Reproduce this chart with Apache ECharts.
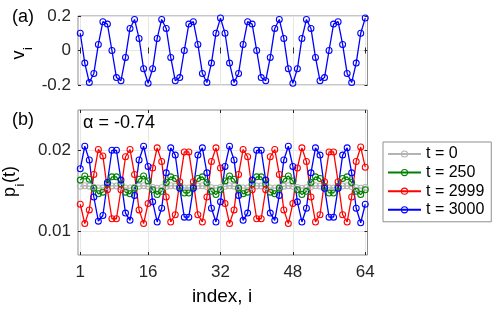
<!DOCTYPE html>
<html>
<head>
<meta charset="utf-8">
<script src="https://cdn.jsdelivr.net/npm/echarts@6/dist/echarts.min.js"></script>
<style>
html,body{margin:0;padding:0;background:#fff;}
#chart{width:498px;height:310px;}
</style>
</head>
<body>
<div id="chart"></div>
<script>
// ---- data ----
var indices = [1,2,3,4,5,6,7,8,9,10,11,12,13,14,15,16,17,18,19,20,21,22,23,24,25,26,27,28,29,30,31,32,
               33,34,35,36,37,38,39,40,41,42,43,44,45,46,47,48,49,50,51,52,53,54,55,56,57,58,59,60,61,62,63,64];
var xTicks = [1,16,32,48,64];
var vTicks = [-0.2,0,0.2];
var pTicks = [0.01,0.02];

var vValues = [0.100,-0.073,-0.186,-0.133,0.035,0.167,0.153,0.000,-0.157,-0.175,-0.040,0.128,0.180,0.070,-0.106,-0.190,
               -0.106,0.070,0.180,0.128,-0.040,-0.175,-0.157,0.000,0.153,0.167,0.035,-0.133,-0.186,-0.073,0.100,0.188,
               0.100,-0.073,-0.186,-0.133,0.035,0.167,0.153,0.000,-0.157,-0.175,-0.040,0.128,0.180,0.070,-0.106,-0.190,
               -0.106,0.070,0.180,0.128,-0.040,-0.175,-0.157,0.000,0.153,0.167,0.035,-0.133,-0.186,-0.073,0.100,0.188];

var pT0 = [0.01552,0.01560,0.01555,0.01541,0.01531,0.01533,0.01546,0.01558,0.01558,0.01546,0.01533,0.01531,0.01541,0.01555,0.01560,0.01552,
           0.01538,0.01530,0.01535,0.01549,0.01559,0.01557,0.01544,0.01532,0.01532,0.01544,0.01557,0.01559,0.01549,0.01535,0.01530,0.01538,
           0.01552,0.01560,0.01555,0.01541,0.01531,0.01533,0.01546,0.01558,0.01558,0.01546,0.01533,0.01531,0.01541,0.01555,0.01560,0.01552,
           0.01538,0.01530,0.01535,0.01549,0.01559,0.01557,0.01544,0.01532,0.01532,0.01544,0.01557,0.01559,0.01549,0.01535,0.01530,0.01538];

var pT250 = [0.0163,0.0168,0.0164,0.0153,0.0146,0.0148,0.0158,0.0167,0.0167,0.0158,0.0148,0.0146,0.0153,0.0164,0.0168,0.0162,
             0.0151,0.0145,0.0149,0.0160,0.0167,0.0165,0.0155,0.0147,0.0147,0.0155,0.0165,0.0167,0.0160,0.0149,0.0145,0.0151,
             0.0162,0.0168,0.0164,0.0153,0.0146,0.0148,0.0158,0.0167,0.0167,0.0158,0.0148,0.0146,0.0153,0.0164,0.0168,0.0162,
             0.0151,0.0145,0.0149,0.0160,0.0167,0.0165,0.0155,0.0147,0.0147,0.0155,0.0165,0.0167,0.0160,0.0149,0.0145,0.0151];

var pT2999 = [0.0133,0.0109,0.0126,0.0170,0.0201,0.0193,0.0151,0.0115,0.0115,0.0151,0.0192,0.0201,0.0170,0.0126,0.0109,0.0134,
              0.0178,0.0203,0.0186,0.0142,0.0111,0.0120,0.0161,0.0198,0.0198,0.0161,0.0120,0.0111,0.0142,0.0186,0.0203,0.0178,
              0.0134,0.0109,0.0126,0.0170,0.0201,0.0192,0.0151,0.0115,0.0115,0.0151,0.0192,0.0201,0.0170,0.0126,0.0109,0.0134,
              0.0178,0.0203,0.0186,0.0142,0.0111,0.0120,0.0161,0.0198,0.0198,0.0161,0.0120,0.0111,0.0142,0.0186,0.0204,0.0179];

var pT3000 = [0.0177,0.0205,0.0188,0.0142,0.0112,0.0119,0.0160,0.0200,0.0200,0.0163,0.0122,0.0113,0.0144,0.0188,0.0205,0.0180,
              0.0136,0.0111,0.0128,0.0172,0.0203,0.0194,0.0153,0.0117,0.0117,0.0153,0.0194,0.0203,0.0172,0.0128,0.0111,0.0136,
              0.0180,0.0205,0.0188,0.0144,0.0113,0.0122,0.0163,0.0200,0.0200,0.0163,0.0122,0.0113,0.0144,0.0188,0.0205,0.0180,
              0.0136,0.0111,0.0128,0.0172,0.0203,0.0194,0.0153,0.0117,0.0117,0.0153,0.0194,0.0203,0.0172,0.0128,0.0110,0.0133];

var seriesNames = ['t = 0','t = 250','t = 2999','t = 3000'];
var seriesColors = ['#b3b3b3','#008000','#ff0000','#0000ff'];
// -------------------------------------

var FONT = 'Liberation Sans, Arial, Helvetica, sans-serif';
var AX = '#262626';
var BOX = '#8f8f8f';
var GRIDC = '#e6e6e6';
var RING = 'path://M0,-5A5,5,0,1,1,0,5A5,5,0,1,1,0,-5ZM0,-3.5A3.5,3.5,0,1,0,0,3.5A3.5,3.5,0,1,0,0,-3.5Z';

function pairs(vals){ return indices.map(function(x,k){ return [x, vals[k]]; }); }

function xAx(gridIndex, pos, showLabels){
  return {
    type:'value', gridIndex:gridIndex, position:pos, min:0.5, max:64.5,
    axisLine:{show:false},
    axisTick:{show:true, inside:true, length:3, customValues:xTicks, lineStyle:{color:AX, width:1}},
    axisLabel:{show:showLabels, customValues:xTicks, color:AX, fontSize:17, fontFamily:FONT, margin:9},
    splitLine:{show:pos==='bottom', lineStyle:{color:GRIDC, width:1}}
  };
}
function yAx(gridIndex, pos, min, max, ticks, showLabels, fmt){
  return {
    type:'value', gridIndex:gridIndex, position:pos, min:min, max:max,
    axisLine:{show:false},
    axisTick:{show:true, inside:true, length:3, customValues:ticks, lineStyle:{color:AX, width:1}},
    axisLabel:{show:showLabels, customValues:ticks, color:AX, fontSize:17, fontFamily:FONT, margin:7, formatter:fmt},
    splitLine:{show:pos==='left', lineStyle:{color:GRIDC, width:1}}
  };
}

function mkSeries(name, vals, color, xi, yi){
  return {
    name:name, type:'line', xAxisIndex:xi, yAxisIndex:yi, data:pairs(vals),
    symbol:RING, symbolSize:7, showSymbol:true,
    lineStyle:{color:color, width:1.3},
    itemStyle:{color:color, borderWidth:0},
    emphasis:{disabled:true}, animation:false
  };
}

function txt(t, x, y, size, rot, align){
  return {type:'text', x:x, y:y, rotation:rot||0, z:100,
    style:{text:t, font:size+'px '+FONT, fill:'#000', align:align||'center', verticalAlign:'middle'}};
}

var R = Math.PI/2;
var chart = echarts.init(document.getElementById('chart'), null, {renderer:'canvas'});
var option = {
  backgroundColor:'#fff',
  animation:false,
  textStyle:{fontFamily:FONT},
  grid:[
    {left:78, right:130.5, top:16, height:69, show:true, borderColor:BOX, borderWidth:1, backgroundColor:'#fff'},
    {left:78, right:130.5, top:110, height:145, show:true, borderColor:BOX, borderWidth:1, backgroundColor:'#fff'}
  ],
  xAxis:[
    xAx(0,'bottom',false), xAx(0,'top',false),
    xAx(1,'bottom',true),  xAx(1,'top',false)
  ],
  yAxis:[
    yAx(0,'left',-0.2,0.2,vTicks,true,function(v){ return Math.abs(v)<1e-9 ? '0' : String(Math.round(v*10)/10); }),
    yAx(0,'right',-0.2,0.2,vTicks,false),
    yAx(1,'left',0.007,0.025,pTicks,true,function(v){ return v.toFixed(2); }),
    yAx(1,'right',0.007,0.025,pTicks,false)
  ],
  legend:{
    orient:'vertical', left:383, top:142,
    data:seriesNames,
    itemWidth:33, itemHeight:9, itemGap:2.6,
    padding:[4,7,4,4],
    borderColor:'#8f8f8f', borderWidth:1, backgroundColor:'#fff',
    textStyle:{color:'#000', fontSize:16, fontFamily:FONT, lineHeight:16},
    selectedMode:false
  },
  series:[
    mkSeries('v', vValues, '#0000ff', 0, 0),
    mkSeries(seriesNames[0], pT0, seriesColors[0], 2, 2),
    mkSeries(seriesNames[1], pT250, seriesColors[1], 2, 2),
    mkSeries(seriesNames[2], pT2999, seriesColors[2], 2, 2),
    mkSeries(seriesNames[3], pT3000, seriesColors[3], 2, 2)
  ],
  graphic:[
    txt('(a)', 12, 17, 18, 0, 'left'),
    txt('(b)', 12, 120, 18, 0, 'left'),
    txt('α = -0.74', 83, 123, 18, 0, 'left'),
    txt('v', 19, 55, 18, R),
    txt('i', 28.5, 48.5, 13, R),
    txt('p', 10.5, 192, 18, R),
    txt('i', 20, 185, 13, R),
    txt('(t)', 10.5, 174.5, 18, R),
    txt('index, i', 222, 297, 19, 0)
  ]
};
chart.setOption(option);
</script>
</body>
</html>
